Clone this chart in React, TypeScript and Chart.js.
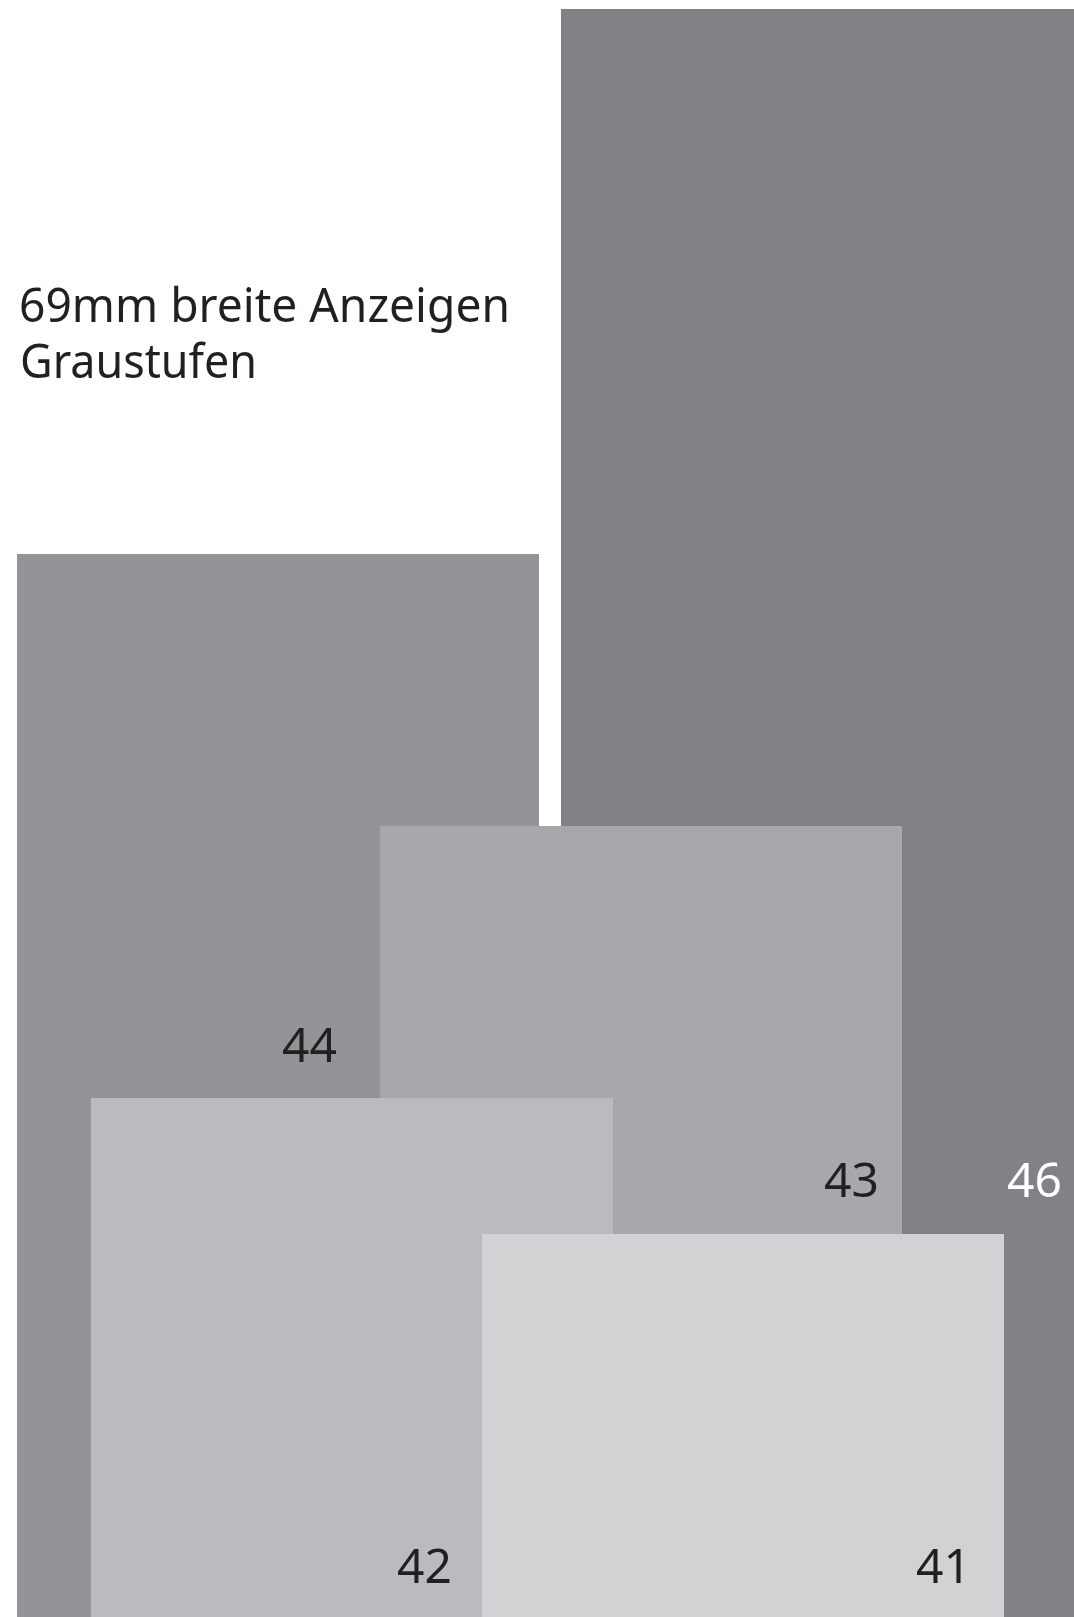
import React, { useEffect, useRef } from "react";
import { Chart, registerables } from "chart.js";

Chart.register(...registerables);

// Ads, listed front (top-most) to back
const adLabels = ["41", "42", "43", "44", "46"];
const adLeft = [482, 91, 380, 17, 561];
const adRight = [1004, 613, 902, 539, 1074];
const adTop = [383, 519, 791, 1063, 1608];
const labelX = [971, 452, 879, 337, 1062];
const labelY = [34, 34, 420, 555, 420];
const adColors = ["#d1d2d4", "#babbbf", "#a7a8ac", "#939498", "#818286"];
const labelColors = ["#231f20", "#231f20", "#231f20", "#231f20", "#ffffff"];
const titleLines = ["69mm breite Anzeigen", "Graustufen"];

const W = 1074;
const H = 1617;

export default function App() {
  const ref = useRef<HTMLCanvasElement | null>(null);

  useEffect(() => {
    document.body.style.margin = "0";
    const canvas = ref.current;
    if (!canvas) return;

    const textPlugin = {
      id: "adText",
      afterDatasetsDraw(chart: any) {
        const ctx = chart.ctx as CanvasRenderingContext2D;
        const xs = chart.scales.x;
        const ys = chart.scales.y;
        ctx.save();
        ctx.font = '48px "Noto Sans"';
        ctx.textBaseline = "alphabetic";
        ctx.textAlign = "right";
        adLabels.forEach((lab, i) => {
          ctx.fillStyle = labelColors[i];
          ctx.fillText(lab, xs.getPixelForValue(labelX[i]), ys.getPixelForValue(labelY[i]));
        });
        ctx.textAlign = "left";
        ctx.fillStyle = "#231f20";
        ctx.fillText(titleLines[0], 19, 322, 491);
        ctx.fillText(titleLines[1], 20, 378, 237);
        ctx.restore();
      },
    };

    const datasets = adLabels.map((lab, i) => ({
      label: lab,
      data: [
        { x: adLeft[i], y: adTop[i] },
        { x: adRight[i], y: adTop[i] },
      ],
      backgroundColor: adColors[i],
      borderColor: "rgba(0,0,0,0)",
      borderWidth: 0,
      pointRadius: 0,
      pointHoverRadius: 0,
      fill: "origin",
      tension: 0,
    }));

    const chart = new Chart(canvas, {
      type: "line",
      data: { datasets },
      options: {
        animation: false,
        responsive: false,
        events: [],
        layout: { padding: 0 },
        plugins: {
          legend: { display: false },
          tooltip: { enabled: false },
          title: { display: false },
        },
        scales: {
          x: { type: "linear", min: 0, max: W, display: false },
          y: { type: "linear", min: 0, max: H, display: false },
        },
      },
      plugins: [textPlugin],
    });

    return () => chart.destroy();
  }, []);

  return (
    <div style={{ width: W, height: H, background: "#ffffff" }}>
      <canvas ref={ref} width={W} height={H} style={{ display: "block", width: W, height: H }} />
    </div>
  );
}
